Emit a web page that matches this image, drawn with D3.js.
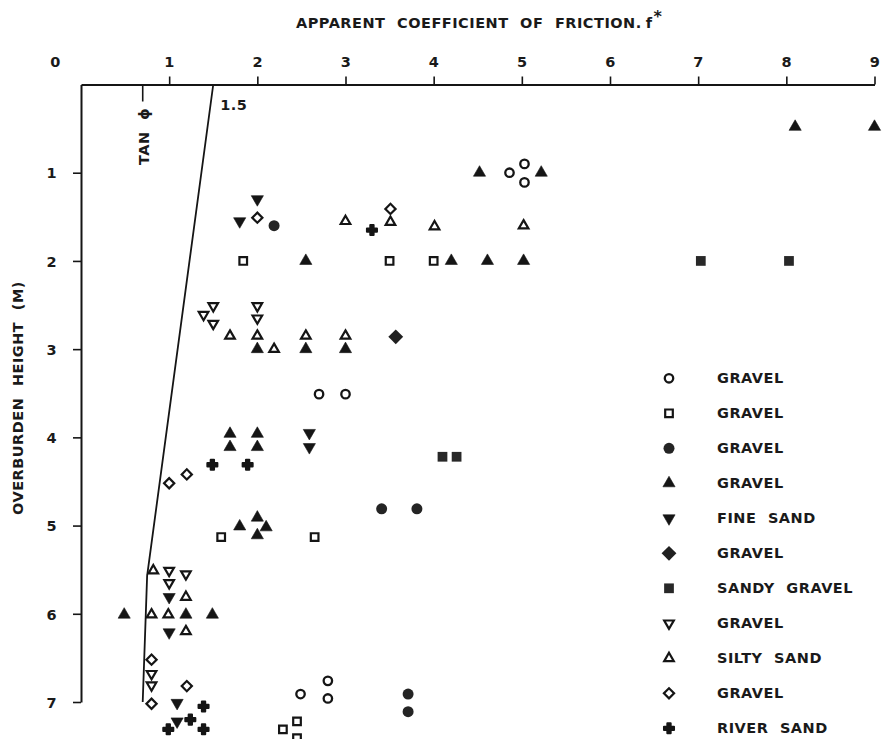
<!DOCTYPE html>
<html>
<head>
<meta charset="utf-8">
<script src="https://cdn.jsdelivr.net/npm/d3@7"></script>
<style>
  html, body { margin: 0; padding: 0; background: #fff; }
  svg { display: block; }
  text {
    font-family: "DejaVu Sans", sans-serif;
    font-weight: bold;
    font-size: 14.5px;
    fill: #1a1a1a;
    letter-spacing: 0.5px;
    word-spacing: 6px;
  }
</style>
</head>
<body>
<svg id="chart" width="885" height="739"></svg>
<script>
// Axis ticks
const fTicks = [0, 1, 2, 3, 4, 5, 6, 7, 8, 9];
const hTicks = [1, 2, 3, 4, 5, 6, 7];

// tan φ boundary line (f, h)
const tanPhiF = [1.5, 0.75, 0.7];
const tanPhiH = [0, 5.57, 7.0];
const tanPhiValue = 0.7;
const tanPhiTopLabel = "1.5";

// Measurements: [apparent coefficient f*, overburden height (m)]
const gravelOpenCircle = [[4.86, 1.0], [5.03, 0.9], [5.03, 1.11], [2.7, 3.51], [3.0, 3.51],
  [2.49, 6.91], [2.8, 6.76], [2.8, 6.96]];
const gravelOpenSquare = [[1.84, 2.0], [3.5, 2.0], [4.0, 2.0], [1.59, 5.13], [2.65, 5.13],
  [2.29, 7.31], [2.45, 7.22], [2.45, 7.41]];
const gravelDarkCircle = [[2.19, 1.6], [3.41, 4.81], [3.81, 4.81], [3.71, 6.91], [3.71, 7.11]];
const gravelFilledTriangle = [[8.1, 0.48], [9.0, 0.48], [4.52, 1.0], [5.22, 1.0],
  [2.55, 2.0], [4.2, 2.0], [4.61, 2.0], [5.02, 2.0],
  [2.0, 3.0], [2.55, 3.0], [3.0, 3.0],
  [1.69, 3.96], [2.0, 3.96], [1.69, 4.11], [2.0, 4.11],
  [1.8, 5.01], [2.0, 4.91], [2.1, 5.02], [2.0, 5.11],
  [0.49, 6.01], [1.19, 6.01], [1.49, 6.01]];
const fineSand = [[2.0, 1.3], [1.8, 1.55], [2.59, 3.95], [2.59, 4.11], [1.0, 5.81],
  [1.0, 6.21], [1.09, 7.01], [1.09, 7.22]];
const gravelFilledDiamond = [[3.57, 2.86]];
const sandyGravel = [[7.03, 2.0], [8.03, 2.0], [4.1, 4.22], [4.26, 4.22]];
const gravelOpenDownTriangle = [[1.5, 2.51], [1.39, 2.61], [1.5, 2.71], [2.0, 2.51], [2.0, 2.65],
  [1.0, 5.51], [1.19, 5.55], [1.0, 5.65], [0.8, 6.68], [0.8, 6.81]];
const siltySand = [[3.0, 1.55], [3.51, 1.56], [4.01, 1.61], [5.02, 1.6],
  [1.69, 2.85], [2.0, 2.85], [2.55, 2.85], [3.0, 2.85], [2.19, 3.0],
  [0.82, 5.51], [1.19, 5.81], [0.8, 6.01], [0.99, 6.01], [1.19, 6.2]];
const gravelOpenDiamond = [[2.0, 1.51], [3.51, 1.41], [1.2, 4.42], [1.0, 4.52],
  [0.8, 6.52], [0.8, 7.02], [1.2, 6.82]];
const riverSand = [[3.3, 1.65], [1.49, 4.31], [1.89, 4.31], [1.39, 7.05], [1.24, 7.2],
  [0.99, 7.31], [1.39, 7.31]];

const legendLabels = ["GRAVEL", "GRAVEL", "GRAVEL", "GRAVEL", "FINE SAND", "GRAVEL",
  "SANDY GRAVEL", "GRAVEL", "SILTY SAND", "GRAVEL", "RIVER SAND"];
const markerKinds = ["openCircle", "openSquare", "darkCircle", "filledTriangle", "filledDownTriangle",
  "filledDiamond", "filledSquare", "openDownTriangle", "openTriangle", "openDiamond", "cross"];
const seriesData = [gravelOpenCircle, gravelOpenSquare, gravelDarkCircle, gravelFilledTriangle,
  fineSand, gravelFilledDiamond, sandyGravel, gravelOpenDownTriangle, siltySand,
  gravelOpenDiamond, riverSand];

const titleText = "APPARENT COEFFICIENT OF FRICTION.";
const yTitleText = "OVERBURDEN HEIGHT (M)";

const ink = "#151515";
const svg = d3.select("#chart");

const x = d3.scaleLinear().domain([0, 9]).range([81, 874.5]);
const y = d3.scaleLinear().domain([0, 7]).range([84.5, 702]);

// Marker drawing
const markerStyles = {
  openCircle:        { type: d3.symbolCircle,   size: 56,  rot: 0,   fill: "#fff", stroke: ink, sw: 2.3 },
  openSquare:        { type: d3.symbolSquare,   size: 58,  rot: 0,   fill: "#fff", stroke: ink, sw: 2.2 },
  darkCircle:        { type: d3.symbolCircle,   size: 95,  rot: 0,   fill: "#242424", stroke: "none", sw: 0 },
  filledTriangle:    { type: d3.symbolTriangle, size: 64,  rot: 0,   fill: ink, stroke: ink, sw: 0.6 },
  filledDownTriangle:{ type: d3.symbolTriangle, size: 64,  rot: 180, fill: ink, stroke: ink, sw: 0.6 },
  filledDiamond:     { type: d3.symbolSquare,   size: 110, rot: 45,  fill: "#202020", stroke: "none", sw: 0 },
  filledSquare:      { type: d3.symbolSquare,   size: 95,  rot: 0,   fill: "#282828", stroke: "none", sw: 0 },
  openDownTriangle:  { type: d3.symbolTriangle, size: 40,  rot: 180, fill: "#fff", stroke: ink, sw: 2.2 },
  openTriangle:      { type: d3.symbolTriangle, size: 40,  rot: 0,   fill: "#fff", stroke: ink, sw: 2.2 },
  openDiamond:       { type: d3.symbolSquare,   size: 52,  rot: 45,  fill: "#fff", stroke: ink, sw: 2.2 },
  cross:             { type: d3.symbolCross,    size: 56,  rot: 0,   fill: ink, stroke: ink, sw: 2.0 }
};

function drawMarker(g, kind, px, py) {
  const s = markerStyles[kind];
  g.append("path")
    .attr("d", d3.symbol().type(s.type).size(s.size)())
    .attr("transform", `translate(${px},${py}) rotate(${s.rot})`)
    .attr("fill", s.fill)
    .attr("stroke", s.stroke)
    .attr("stroke-width", s.sw)
    .attr("stroke-linejoin", kind === "cross" ? "round" : "miter");
}

// Top axis (f*)
const xAxis = svg.append("g")
  .attr("transform", `translate(0,${y(0)})`)
  .call(d3.axisTop(x).tickValues(fTicks).tickSizeInner(8).tickSizeOuter(0).tickPadding(10)
    .tickFormat(d3.format("d")));
xAxis.select(".domain").attr("stroke", ink).attr("stroke-width", 2);
xAxis.selectAll(".tick line").attr("stroke", ink).attr("stroke-width", 1.6);
xAxis.selectAll(".tick").filter(d => d === 0).select("line").remove();
xAxis.selectAll(".tick").filter(d => d === 0).select("text").attr("x", -26);

// Left axis (overburden height)
const yAxis = svg.append("g")
  .attr("transform", `translate(${x(0)},0)`)
  .call(d3.axisLeft(y).tickValues(hTicks).tickSizeInner(8).tickSizeOuter(0).tickPadding(16)
    .tickFormat(d3.format("d")));
yAxis.select(".domain").attr("stroke", ink).attr("stroke-width", 2);
yAxis.selectAll(".tick line").attr("stroke", ink).attr("stroke-width", 1.6);
yAxis.selectAll(".tick text").attr("dy", "0.36em");

// Titles
const title = svg.append("text").attr("x", 296).attr("y", 28);
title.append("tspan").text(titleText);
title.append("tspan").attr("dx", 4).text("f");
title.append("tspan").attr("dy", -6).attr("dx", 1).style("font-size", "16px").text("*");

svg.append("text")
  .attr("transform", `translate(23,${398}) rotate(-90)`)
  .attr("text-anchor", "middle")
  .text(yTitleText);

// tan φ boundary
const tanLine = d3.line().x(d => x(d[0])).y(d => y(d[1]));
svg.append("path")
  .datum(tanPhiF.map((f, i) => [f, tanPhiH[i]]))
  .attr("d", tanLine)
  .attr("fill", "none")
  .attr("stroke", ink)
  .attr("stroke-width", 1.8);

svg.append("text")
  .attr("x", x(tanPhiF[0]) + 7)
  .attr("y", y(0) + 25)
  .text(tanPhiTopLabel);

svg.append("line")
  .attr("x1", x(tanPhiValue)).attr("x2", x(tanPhiValue))
  .attr("y1", y(0)).attr("y2", y(0) + 17)
  .attr("stroke", ink).attr("stroke-width", 1.6);

svg.append("text")
  .attr("transform", `translate(${x(tanPhiValue) + 6},${165}) rotate(-90)`)
  .attr("text-anchor", "start")
  .text("TAN ϕ");

// Data points
const pts = svg.append("g");
seriesData.forEach((arr, i) => {
  arr.forEach(d => drawMarker(pts, markerKinds[i], x(d[0]), y(d[1])));
});

// Legend
const legend = svg.append("g");
legendLabels.forEach((lab, i) => {
  const ly = 378.3 + i * 35;
  drawMarker(legend, markerKinds[i], 669, ly);
  legend.append("text").attr("x", 717).attr("y", ly + 5).text(lab);
});
</script>
</body>
</html>
